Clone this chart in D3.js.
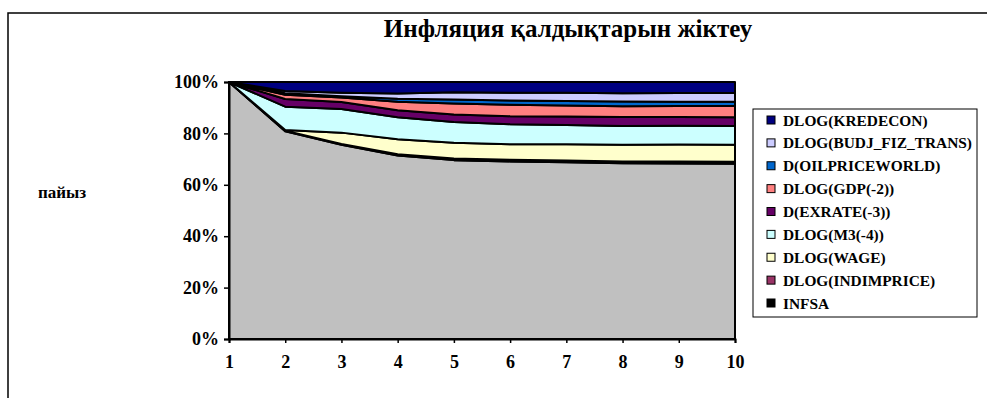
<!DOCTYPE html>
<html>
<head>
<meta charset="utf-8">
<script src="https://cdn.jsdelivr.net/npm/d3@7"></script>
<style>
  html, body { margin: 0; padding: 0; background: #fff; }
  svg { display: block; }
  text { font-family: "Liberation Serif", "Times New Roman", serif; font-weight: bold; fill: #000; }
</style>
</head>
<body>
<svg id="chart" width="987" height="398"></svg>
<script>
// Forecast horizons (periods)
const periods = [1, 2, 3, 4, 5, 6, 7, 8, 9, 10];

// Share of inflation variance explained by each shock, %
const INFSA          = [100, 80.8, 75.6, 71.4, 69.6, 69.1, 68.8, 68.4, 68.3, 68.2];
const INDIMPRICE     = [0, 0.2, 0.3, 0.5, 0.6, 0.6, 0.7, 0.7, 0.8, 0.8];
const WAGE           = [0, 0.3, 4.4, 5.8, 6.2, 6.1, 6.3, 6.5, 6.6, 6.6];
const M3             = [0, 9.1, 9.2, 8.6, 8.0, 7.8, 7.5, 7.3, 7.3, 7.3];
const EXRATE         = [0, 3.0, 2.7, 2.7, 3.0, 3.1, 3.3, 3.5, 3.4, 3.4];
const GDP            = [0, 1.6, 1.8, 3.3, 4.2, 4.4, 4.3, 4.2, 4.3, 4.4];
const OILPRICEWORLD  = [0, 0.6, 0.5, 1.2, 1.6, 1.7, 1.7, 1.8, 1.6, 1.6];
const BUDJ_FIZ_TRANS = [0, 0.9, 1.3, 2.0, 2.8, 3.0, 3.2, 3.2, 3.4, 3.4];
const KREDECON       = [0, 3.5, 4.2, 4.5, 4.0, 4.2, 4.2, 4.4, 4.3, 4.3];

// Series names, bottom of the stack first
const seriesNames = [
  "INFSA", "DLOG(INDIMPRICE)", "DLOG(WAGE)", "DLOG(M3(-4))", "D(EXRATE(-3))",
  "DLOG(GDP(-2))", "D(OILPRICEWORLD)", "DLOG(BUDJ_FIZ_TRANS)", "DLOG(KREDECON)"
];
const seriesValues = [INFSA, INDIMPRICE, WAGE, M3, EXRATE, GDP, OILPRICEWORLD, BUDJ_FIZ_TRANS, KREDECON];
const areaColors   = ["#C0C0C0", "#993366", "#FFFFCC", "#CCFFFF", "#660066", "#FF8080", "#0066CC", "#CCCCFF", "#000080"];
const legendColors = ["#000000", "#993366", "#FFFFCC", "#CCFFFF", "#660066", "#FF8080", "#0066CC", "#CCCCFF", "#000080"];

const yTicks = [0, 0.2, 0.4, 0.6, 0.8, 1.0];
const title = "Инфляция қалдықтарын жіктеу";
const yTitle = "пайыз";

const FONT = "'Liberation Serif', 'Times New Roman', serif";

// Build rows for d3.stack
const rows = periods.map((p, i) => {
  const r = { period: p };
  seriesNames.forEach((n, k) => { r[n] = seriesValues[k][i]; });
  return r;
});

const svg = d3.select("#chart");

// Outer chart frame
svg.append("rect")
  .attr("x", 8).attr("y", 13).attr("width", 1000).attr("height", 400)
  .attr("fill", "none").attr("stroke", "#000").attr("stroke-width", 1.5);

const x = d3.scaleLinear().domain([1, 10]).range([229, 735]);
const y = d3.scaleLinear().domain([0, 1]).range([339, 82]);

const stacked = d3.stack()
  .keys(seriesNames)
  .offset(d3.stackOffsetExpand)(rows);

const area = d3.area()
  .x(d => x(d.data.period))
  .y0(d => y(d[0]))
  .y1(d => y(d[1]));

svg.append("g")
  .selectAll("path")
  .data(stacked)
  .join("path")
  .attr("d", area)
  .attr("fill", (d, i) => areaColors[i])
  .attr("stroke", "#000")
  .attr("stroke-width", 2)
  .attr("stroke-linejoin", "round");

// Axes
const yAxis = d3.axisLeft(y).tickValues(yTicks).tickFormat(d3.format(".0%")).tickSize(5).tickPadding(5);
const gy = svg.append("g").attr("transform", `translate(${x(1)},0)`).call(yAxis)
  .attr("font-family", FONT).attr("font-size", 18);
gy.select(".domain").attr("stroke", "#000").attr("stroke-width", 2);
gy.selectAll(".tick line").attr("stroke", "#000").attr("stroke-width", 1.5);
gy.selectAll(".tick text").attr("font-weight", "bold");

const xAxis = d3.axisBottom(x).tickValues(periods).tickFormat(d3.format("d")).tickSize(4).tickPadding(12);
const gx = svg.append("g").attr("transform", `translate(0,${y(0)})`).call(xAxis)
  .attr("font-family", FONT).attr("font-size", 18);
gx.select(".domain").attr("stroke", "#000").attr("stroke-width", 2);
gx.selectAll(".tick line").attr("stroke", "#000").attr("stroke-width", 1.5);
gx.selectAll(".tick text").attr("font-weight", "bold");

// Titles
svg.append("text")
  .attr("x", 568).attr("y", 37)
  .attr("text-anchor", "middle")
  .style("font-size", "25px")
  .text(title);

svg.append("text")
  .attr("x", 62).attr("y", 198)
  .attr("text-anchor", "middle")
  .style("font-size", "17px")
  .text(yTitle);

// Legend, top entry is the top of the stack
const legend = svg.append("g");
legend.append("rect")
  .attr("x", 753).attr("y", 109).attr("width", 224).attr("height", 208)
  .attr("fill", "#fff").attr("stroke", "#000").attr("stroke-width", 1);

const legendOrder = d3.range(seriesNames.length).reverse();
const ly = d3.scalePoint().domain(legendOrder).range([120, 303]);
const items = legend.selectAll("g.item")
  .data(legendOrder)
  .join("g")
  .attr("class", "item")
  .attr("transform", k => `translate(767,${ly(k)})`);
items.append("rect")
  .attr("x", 0).attr("y", -4).attr("width", 8).attr("height", 8)
  .attr("fill", k => legendColors[k]).attr("stroke", "#000").attr("stroke-width", 1);
items.append("text")
  .attr("x", 16).attr("y", 5.5)
  .style("font-size", "15.4px")
  .text(k => seriesNames[k]);
</script>
</body>
</html>
